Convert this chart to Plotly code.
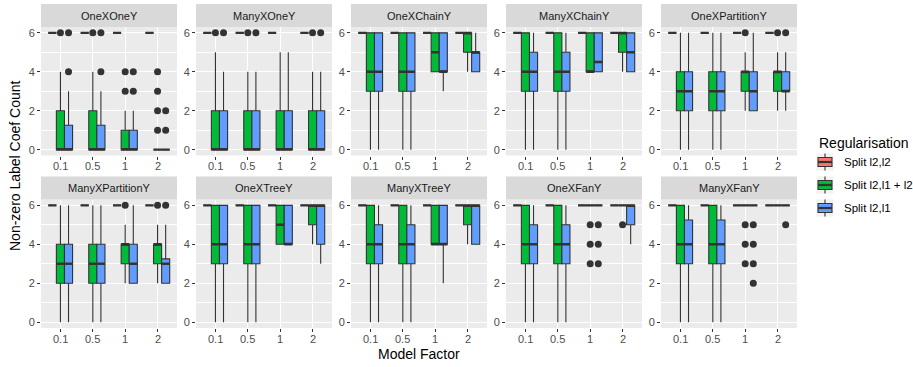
import plotly.graph_objects as go

W, H = 913, 367

FACETS = ["OneXOneY", "ManyXOneY", "OneXChainY", "ManyXChainY", "OneXPartitionY",
          "ManyXPartitionY", "OneXTreeY", "ManyXTreeY", "OneXFanY", "ManyXFanY"]
CATEGORIES = ["0.1", "0.5", "1", "2"]
GROUPS = ["Split l2,l2", "Split l2,l1 + l2", "Split l2,l1"]
COLORS = ["#F8766D", "#00BA38", "#619CFF"]

# Split l2,l2 : always 6
RED_Q1 = [[6, 6, 6, 6]] * 10
RED_MED = [[6, 6, 6, 6]] * 10
RED_Q3 = [[6, 6, 6, 6]] * 10
RED_LO = [[6, 6, 6, 6]] * 10
RED_HI = [[6, 6, 6, 6]] * 10

# Split l2,l1 + l2
GREEN_Q1 = [[0, 0, 0, 0], [0, 0, 0, 0], [3, 3, 4, 5], [3, 3, 4, 5], [2, 2, 3, 3],
            [2, 2, 3, 3], [3, 3, 4, 5], [3, 3, 4, 5], [3, 3, 6, 6], [3, 3, 6, 6]]
GREEN_MED = [[0, 0, 0, 0], [0, 0, 0, 0], [4, 4, 5, 6], [4, 4, 4, 6], [3, 3, 4, 4],
             [3, 3, 4, 4], [4, 4, 5, 6], [4, 4, 4, 6], [4, 4, 6, 6], [4, 4, 6, 6]]
GREEN_Q3 = [[2, 2, 1, 0], [2, 2, 2, 2], [6, 6, 6, 6], [6, 6, 6, 6], [4, 4, 4, 4],
            [4, 4, 4, 4], [6, 6, 6, 6], [6, 6, 6, 6], [6, 6, 6, 6], [6, 6, 6, 6]]
GREEN_LO = [[0, 0, 0, 0], [0, 0, 0, 0], [0, 0, 4, 4], [0, 0, 4, 4], [0, 0, 2, 2],
            [0, 0, 2, 2], [0, 0, 4, 4], [0, 0, 4, 4], [0, 0, 6, 6], [0, 0, 6, 6]]
GREEN_HI = [[4, 4, 2, 0], [5, 4, 5, 4], [6, 6, 6, 6], [6, 6, 6, 6], [6, 6, 5, 5],
            [6, 6, 5, 5], [6, 6, 6, 6], [6, 6, 6, 6], [6, 6, 6, 6], [6, 6, 6, 6]]

# Split l2,l1
BLUE_Q1 = [[0, 0, 0, 0], [0, 0, 0, 0], [3, 3, 4, 4], [3, 3, 4, 4], [2, 2, 2, 3],
           [2, 2, 2, 2], [3, 3, 4, 4], [3, 3, 4, 4], [3, 3, 6, 5], [3, 3, 6, 6]]
BLUE_MED = [[0, 0, 0, 0], [0, 0, 0, 0], [4, 4, 4, 5], [4, 4, 4.5, 5], [3, 3, 3, 3],
            [3, 3, 3, 3], [4, 4, 4, 6], [4, 4, 4, 6], [4, 4, 6, 6], [4, 4, 6, 6]]
BLUE_Q3 = [[1.25, 1.25, 1, 0], [2, 2, 2, 2], [6, 6, 6, 5], [5, 5, 6, 6], [4, 4, 4, 4],
           [4, 4, 4, 3.25], [6, 6, 6, 6], [5, 5, 6, 6], [5, 5, 6, 6], [5.25, 5.25, 6, 6]]
BLUE_LO = [[0, 0, 0, 0], [0, 0, 0, 0], [0, 0, 3, 4], [0, 0, 4, 4], [0, 0, 2, 2],
           [0, 0, 2, 2], [0, 0, 4, 3], [0, 0, 2, 4], [0, 0, 6, 4], [0, 0, 6, 6]]
BLUE_HI = [[3, 3, 2, 0], [4, 4, 5, 4], [6, 6, 6, 6], [6, 6, 6, 6], [6, 6, 6, 5],
           [6, 6, 6, 5], [6, 6, 6, 6], [6, 6, 6, 6], [6, 6, 6, 6], [6, 6, 6, 6]]

# Outliers
OUT_FACET = [0, 0, 0, 0, 0, 0, 0, 0, 0, 0, 0, 0, 0, 0, 0, 0,
             1, 1, 1, 1, 1, 1,
             4, 4, 4,
             5, 5, 5,
             8, 8, 8, 8, 8, 8, 8,
             9, 9, 9, 9, 9, 9, 9, 9]
OUT_CAT = [0, 0, 0, 1, 1, 1, 2, 2, 2, 2, 3, 3, 3, 3, 3, 3,
           0, 0, 1, 1, 3, 3,
           2, 3, 3,
           2, 3, 3,
           2, 2, 2, 2, 2, 2, 3,
           2, 2, 2, 2, 2, 2, 2, 3]
OUT_GROUP = [1, 2, 2, 1, 2, 2, 1, 1, 2, 2, 1, 1, 1, 1, 2, 2,
             1, 2, 1, 2, 1, 2,
             1, 1, 2,
             1, 1, 2,
             1, 1, 1, 2, 2, 2, 1,
             1, 1, 1, 2, 2, 2, 2, 2]
OUT_VALUE = [6, 4, 6, 6, 4, 6, 3, 4, 3, 4, 1, 2, 3, 4, 1, 2,
             6, 6, 6, 6, 6, 6,
             6, 6, 6,
             6, 6, 6,
             3, 4, 5, 3, 4, 5, 5,
             3, 4, 5, 2, 3, 4, 5, 5]

STATS = [
    (RED_Q1, RED_MED, RED_Q3, RED_LO, RED_HI),
    (GREEN_Q1, GREEN_MED, GREEN_Q3, GREEN_LO, GREEN_HI),
    (BLUE_Q1, BLUE_MED, BLUE_Q3, BLUE_LO, BLUE_HI),
]
OFFSETS = [-0.25, 0.0, 0.25]
BOXW = 0.25
LINE = "#333333"

# layout geometry (pixels)
COL_X0 = [41 + 155 * j for j in range(5)]
PANEL_W = 136
ROW_Y = [(27, 155.5), (199.5, 328)]
STRIP_Y = [(4, 27), (176.5, 199.5)]


def px(x):
    return x / W


def py(y):
    return 1 - y / H


fig = go.Figure()
layout = {}
shapes = []
annotations = []

for f, name in enumerate(FACETS):
    r, c = divmod(f, 5)
    idx = "" if f == 0 else str(f + 1)
    xa, ya = "x" + idx, "y" + idx
    x0, x1 = COL_X0[c], COL_X0[c] + PANEL_W
    yt, yb = ROW_Y[r]
    layout["xaxis" + idx] = dict(
        domain=[px(x0), px(x1)], anchor=ya, range=[-0.6, 3.6],
        tickvals=list(range(len(CATEGORIES))), ticktext=CATEGORIES, showticklabels=False,
        ticks="outside", ticklen=3, tickcolor=LINE, tickwidth=1,
        showgrid=True, gridcolor="white", gridwidth=1.1,
        zeroline=False, showline=False, fixedrange=True)
    layout["yaxis" + idx] = dict(
        domain=[py(yb), py(yt)], anchor=xa, range=[-0.3, 6.3],
        tickvals=[0, 2, 4, 6], ticks="outside", ticklen=3, tickcolor=LINE, tickwidth=1,
        tickfont=dict(size=11, color="#4D4D4D"),
        showgrid=True, gridcolor="white", gridwidth=1.1,
        minor=dict(tickvals=[1, 3, 5], showgrid=True, gridcolor="white", gridwidth=0.5, ticks=""),
        zeroline=False, showline=False, fixedrange=True)
    # x tick labels, placed close to the axis as in ggplot
    for i, lab in enumerate(CATEGORIES):
        annotations.append(dict(text=lab, xref=xa, yref="paper", x=i, y=py(yb + 10.5),
                                showarrow=False, xanchor="center", yanchor="middle",
                                font=dict(size=11, color="#4D4D4D")))
    # strip
    sy0, sy1 = STRIP_Y[r]
    shapes.append(dict(type="rect", xref="paper", yref="paper", x0=px(x0), x1=px(x1),
                       y0=py(sy1), y1=py(sy0), fillcolor="#D9D9D9", line=dict(width=0), layer="below"))
    annotations.append(dict(text=name, xref="paper", yref="paper", x=px((x0 + x1) / 2),
                            y=py((sy0 + sy1) / 2), showarrow=False, xanchor="center", yanchor="middle",
                            font=dict(size=11, color="#1A1A1A")))

    for g in range(3):
        q1, med, q3, lo, hi = [s[f] for s in STATS[g]]
        xs = [i + OFFSETS[g] for i in range(len(CATEGORIES))]
        fig.add_trace(go.Box(
            x=xs, q1=q1, median=med, q3=q3, lowerfence=lo, upperfence=hi,
            width=BOXW, whiskerwidth=0, boxpoints=False, fillcolor=COLORS[g],
            line=dict(color=LINE, width=1.1), xaxis=xa, yaxis=ya,
            name=GROUPS[g], showlegend=False, hoverinfo="skip"))
    # thick median lines (ggplot fatten)
    for g in range(3):
        med = STATS[g][1][f]
        mx, my = [], []
        for i in range(len(CATEGORIES)):
            cx = i + OFFSETS[g]
            mx += [cx - BOXW / 2, cx + BOXW / 2, None]
            my += [med[i], med[i], None]
        fig.add_trace(go.Scatter(x=mx, y=my, mode="lines", line=dict(color=LINE, width=2.4),
                                 xaxis=xa, yaxis=ya, showlegend=False, hoverinfo="skip"))
    # outliers
    ox, oy = [], []
    for k in range(len(OUT_FACET)):
        if OUT_FACET[k] == f:
            ox.append(OUT_CAT[k] + OFFSETS[OUT_GROUP[k]])
            oy.append(OUT_VALUE[k])
    if ox:
        fig.add_trace(go.Scatter(x=ox, y=oy, mode="markers",
                                 marker=dict(color=LINE, size=7, line=dict(width=0)),
                                 xaxis=xa, yaxis=ya, showlegend=False, hoverinfo="skip"))

# axis titles
annotations.append(dict(text="Model Factor", xref="paper", yref="paper", x=px(419), y=py(354),
                        showarrow=False, xanchor="center", yanchor="middle",
                        font=dict(size=14, color="black")))
annotations.append(dict(text="Non-zero Label Coef Count", xref="paper", yref="paper", x=px(15),
                        y=py(166), showarrow=False, textangle=-90, xanchor="center", yanchor="middle",
                        font=dict(size=14, color="black")))

# legend (ggplot-style keys)
annotations.append(dict(text="Regularisation", xref="paper", yref="paper", x=px(817), y=py(143),
                        showarrow=False, xanchor="left", yanchor="middle",
                        font=dict(size=14, color="black")))
KEY_Y = [162, 185, 208]
KX = 825
for g in range(3):
    cy = KEY_Y[g]
    shapes.append(dict(type="rect", xref="paper", yref="paper", x0=px(KX - 8.6), x1=px(KX + 8.6),
                       y0=py(cy + 8.6), y1=py(cy - 8.6), fillcolor="#F2F2F2", line=dict(width=0)))
    shapes.append(dict(type="line", xref="paper", yref="paper", x0=px(KX), x1=px(KX),
                       y0=py(cy + 8.6), y1=py(cy - 8.6), line=dict(color=LINE, width=1.1)))
    shapes.append(dict(type="rect", xref="paper", yref="paper", x0=px(KX - 7), x1=px(KX + 7),
                       y0=py(cy + 4.5), y1=py(cy - 4.5), fillcolor=COLORS[g],
                       line=dict(color=LINE, width=1.1)))
    shapes.append(dict(type="line", xref="paper", yref="paper", x0=px(KX - 7), x1=px(KX + 7),
                       y0=py(cy), y1=py(cy), line=dict(color=LINE, width=2.2)))
    annotations.append(dict(text=GROUPS[g], xref="paper", yref="paper", x=px(842), y=py(cy),
                            showarrow=False, xanchor="left", yanchor="middle",
                            font=dict(size=11.5, color="black")))

fig.update_layout(
    width=W, height=H, margin=dict(l=0, r=0, t=0, b=0),
    paper_bgcolor="white", plot_bgcolor="#EBEBEB",
    font=dict(family="Liberation Sans, Arial, sans-serif"),
    showlegend=False, shapes=shapes, annotations=annotations, boxmode="overlay",
    **layout)

fig.write_html("out.html")
